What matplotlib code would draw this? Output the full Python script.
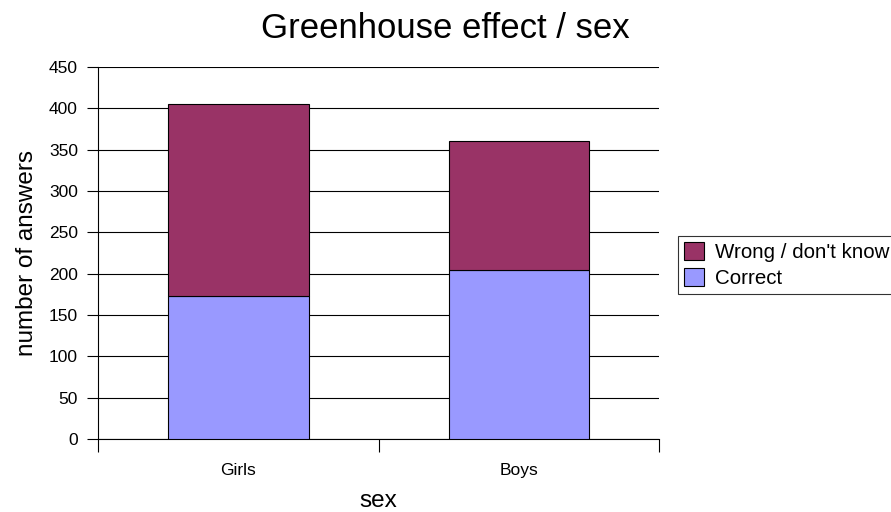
import matplotlib
matplotlib.use("Agg")
import matplotlib.pyplot as plt
import numpy as np

plt.rcParams['font.family'] = ['Liberation Sans', 'DejaVu Sans']

categories = ['Girls', 'Boys']
correct = [173, 204]
wrong = [232, 157]  # totals about 405 and 361

fig = plt.figure(figsize=(8.91, 5.12), dpi=100)
ax = fig.add_axes([0.110, 0.1426, 0.630, 0.7265])

x = np.arange(len(categories))
b1 = ax.bar(x, correct, width=0.5, color='#9999FF', edgecolor='black', linewidth=0.8, label='Correct', zorder=3)
b2 = ax.bar(x, wrong, width=0.5, bottom=correct, color='#993366', edgecolor='black', linewidth=0.8,
            label="Wrong / don't know", zorder=3)

ax.set_xlim(-0.5, 1.5)
ax.set_ylim(0, 450)
ax.set_yticks(np.arange(0, 451, 50))
ax.yaxis.grid(True, color='black', linewidth=0.8, zorder=0)
ax.tick_params(axis='y', direction='out', length=8, labelsize=12.5, width=0.8, pad=6.5)

ax.set_xticks(x)
ax.set_xticklabels(categories, fontsize=12.5)
ax.tick_params(axis='x', which='major', length=0, pad=17)
ax.set_xticks([-0.5, 0.5, 1.5], minor=True)
ax.tick_params(axis='x', which='minor', direction='out', length=9, width=0.8)

for s in ['top', 'right']:
    ax.spines[s].set_visible(False)
ax.spines['left'].set_linewidth(0.8)
ax.spines['bottom'].set_linewidth(0.8)

ax.set_ylabel('number of answers', fontsize=17.5, labelpad=8)
ax.set_xlabel('sex', fontsize=17.5, labelpad=9)
fig.text(0.5, 0.945, 'Greenhouse effect / sex', ha='center', va='center', fontsize=25)

# legend runs past the right edge, as in the original
leg = fig.legend([b2, b1], ["Wrong / don't know", 'Correct'], loc='center left',
                 bbox_to_anchor=(0.761, 0.482), borderaxespad=0, fontsize=14.8, frameon=True,
                 fancybox=False, edgecolor='black', handlelength=0.95, handleheight=0.95,
                 borderpad=0.3, labelspacing=0.3, handletextpad=0.55)
leg.get_frame().set_linewidth(0.8)

fig.savefig('out.png', dpi=100)
